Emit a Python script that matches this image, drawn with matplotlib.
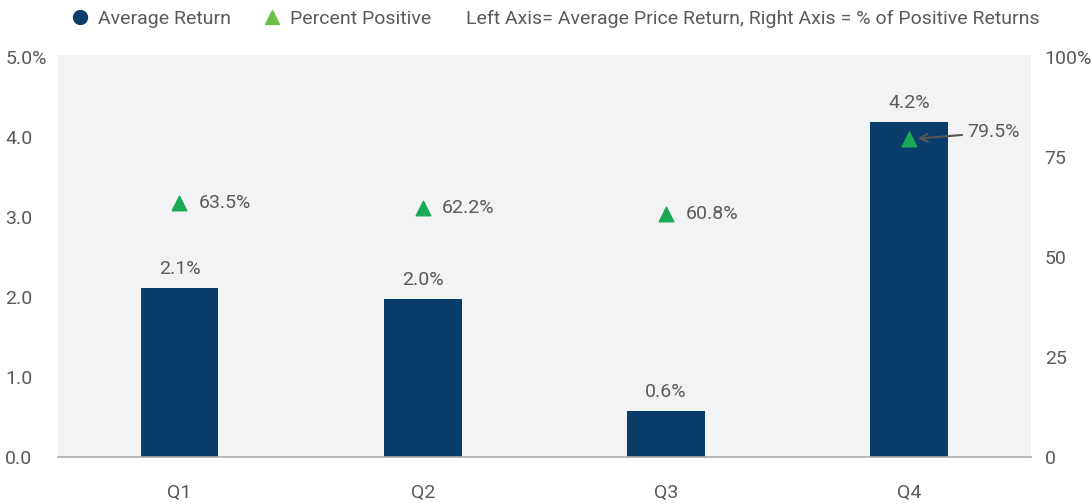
import matplotlib
matplotlib.use('Agg')
import matplotlib.pyplot as plt
from matplotlib.lines import Line2D
import numpy as np

plt.rcParams['font.family'] = ['Roboto', 'DejaVu Sans']

# data
quarters = ['Q1', 'Q2', 'Q3', 'Q4']
avg_return = [2.12, 1.98, 0.58, 4.19]
avg_labels = ['2.1%', '2.0%', '0.6%', '4.2%']
pct_positive = [63.5, 62.2, 60.8, 79.5]
pct_labels = ['63.5%', '62.2%', '60.8%', '79.5%']
left_ticks = [0, 1, 2, 3, 4, 5]
left_ticklabels = ['0.0', '1.0', '2.0', '3.0', '4.0', '5.0%']
right_ticks = [0, 25, 50, 75, 100]
right_ticklabels = ['0', '25', '50', '75', '100%']

navy = '#0b3d6b'
green = '#1aaa55'
legend_green = '#6cbf45'
txt = '#5a5a5a'
fs = 14

fig = plt.figure(figsize=(10.92, 5.04), dpi=100)
ax = fig.add_axes([0.053, 0.093, 0.891, 0.798])
ax.set_facecolor('#f2f3f5')

x = np.arange(len(quarters))
ax.bar(x, avg_return, width=0.32, color=navy, zorder=2)
ax.set_xlim(-0.5, 3.5)
ax.set_ylim(0, 5.03)
ax.set_yticks(left_ticks)
ax.set_yticklabels(left_ticklabels)
ax.set_xticks(x)
ax.set_xticklabels(quarters)
ax.tick_params(axis='x', length=0, pad=19, labelsize=fs, labelcolor=txt)
ax.tick_params(axis='y', length=0, pad=38, labelsize=fs, labelcolor=txt)
for lab in ax.get_yticklabels():
    lab.set_ha('left')
for s in ['top', 'left', 'right']:
    ax.spines[s].set_visible(False)
ax.spines['bottom'].set_color('#aaaaaa')
ax.spines['bottom'].set_linewidth(1.2)

for xi, v, lab in zip(x, avg_return, avg_labels):
    ax.annotate(lab, (xi, v), xytext=(0, 7), textcoords='offset points',
                ha='center', va='bottom', fontsize=fs, color=txt)

ax2 = ax.twinx()
ax2.set_ylim(0, 100.6)
ax2.set_yticks(right_ticks)
ax2.set_yticklabels(right_ticklabels)
ax2.tick_params(axis='y', length=0, pad=10, labelsize=fs, labelcolor=txt)
for s in ['top', 'left', 'right', 'bottom']:
    ax2.spines[s].set_visible(False)

ax2.scatter(x, pct_positive, marker='^', s=110, color=green, zorder=3)
for i, (xi, v, lab) in enumerate(zip(x, pct_positive, pct_labels)):
    if i == len(quarters) - 1:
        ax2.annotate(lab, (xi, v), xytext=(42, 5), textcoords='offset points',
                     ha='left', va='center', fontsize=fs, color=txt,
                     arrowprops=dict(arrowstyle='->', color='#555555', lw=1.5,
                                     shrinkA=2, shrinkB=6))
    else:
        ax2.annotate(lab, (xi, v), xytext=(14, 0), textcoords='offset points',
                     ha='left', va='center', fontsize=fs, color=txt)

handles = [
    Line2D([], [], marker='o', linestyle='none', color=navy, markersize=10),
    Line2D([], [], marker='^', linestyle='none', color=legend_green, markersize=10),
]
fig.legend(handles, ['Average Return', 'Percent Positive'], loc='center left',
           bbox_to_anchor=(0.064, 0.963), ncol=2, frameon=False, fontsize=fs,
           labelcolor=txt, handletextpad=0.45, columnspacing=1.6, handlelength=1,
           borderpad=0, borderaxespad=0)
fig.text(0.427, 0.963, 'Left Axis= Average Price Return, Right Axis = % of Positive Returns',
         ha='left', va='center', fontsize=fs, color=txt)

fig.savefig('out.png', dpi=100)
